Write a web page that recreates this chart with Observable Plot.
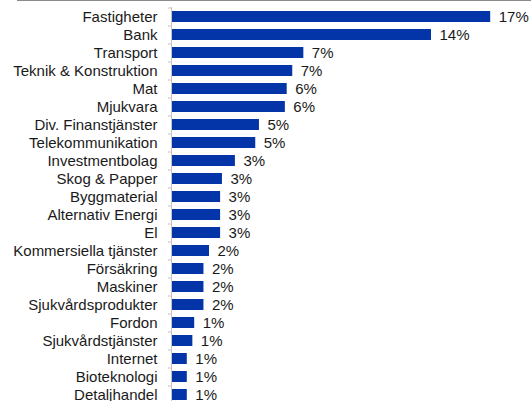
<!DOCTYPE html>
<html><head><meta charset="utf-8">
<script src="https://cdn.jsdelivr.net/npm/d3@7"></script>
<script src="https://cdn.jsdelivr.net/npm/@observablehq/plot@0.6"></script>
<style>
body{margin:0;background:#fff;}
#chart{position:relative;width:531px;height:401px;overflow:hidden;}
#topline{position:absolute;left:17px;top:0;width:514px;height:1px;background:#8a8a8a;}
#chart svg{display:block;}
</style></head><body><div id="chart"><div id="topline"></div></div>
<script>
const sectors = ["Fastigheter","Bank","Transport","Teknik & Konstruktion","Mat","Mjukvara","Div. Finanstjänster","Telekommunikation","Investmentbolag","Skog & Papper","Byggmaterial","Alternativ Energi","El","Kommersiella tjänster","Försäkring","Maskiner","Sjukvårdsprodukter","Fordon","Sjukvårdstjänster","Internet","Bioteknologi","Detaljhandel"];
const shares = [17.2,14.0,7.1,6.5,6.2,6.1,4.7,4.5,3.4,2.7,2.6,2.6,2.6,2.0,1.7,1.7,1.7,1.2,1.1,0.8,0.8,0.8];
const data = sectors.map((s,i)=>({sector:s, share:shares[i], label: Math.round(shares[i]) + "%"}));

const chart = Plot.plot({
  width: 531,
  height: 401,
  marginLeft: 172,
  marginRight: 26,
  marginTop: 7,
  marginBottom: 0,
  style: {fontFamily: "'Liberation Sans', Arial, sans-serif", fontSize: "15px", color: "#1a1a1a", background: "transparent"},
  x: {domain: [0, 18], axis: null},
  y: {domain: sectors, range: [7.5, 403.5], paddingInner: 0.4, paddingOuter: 0.2, axis: null},
  marks: [
    Plot.axisY({tickSize: 4, dy: -9, text: null, label: null, stroke: "#c4c4c4"}),
    Plot.axisY({tickSize: 0, tickPadding: 15, fontSize: 15, label: null}),
    Plot.barX(data, {x: "share", y: "sector", fill: "#0335a8"}),
    Plot.ruleX([0], {dx: -1, stroke: "#c4c4c4"}),
    Plot.text(data, {x: "share", y: "sector", text: "label", textAnchor: "start", dx: 8, fontSize: 15})
  ]
});
document.getElementById("chart").appendChild(chart);
</script></body></html>
